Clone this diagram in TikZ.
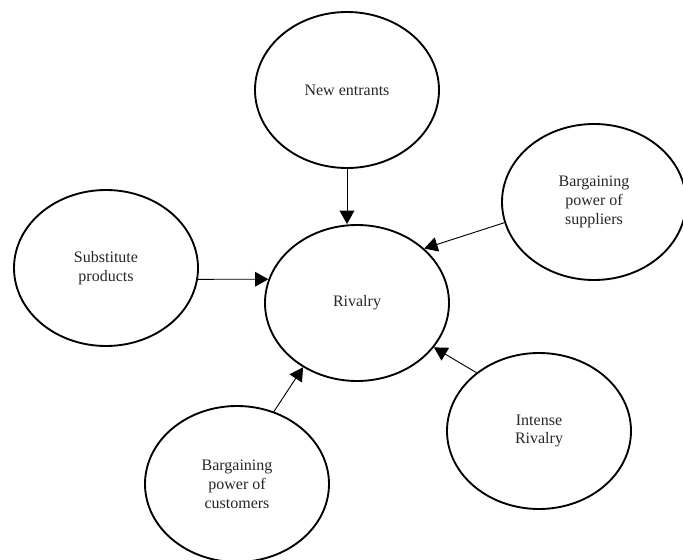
\documentclass[tikz,border=0pt]{standalone}
\usepackage{fontspec}
\setmainfont{Liberation Serif}
\usetikzlibrary{shapes.geometric,arrows.meta}
\begin{document}
\begin{tikzpicture}[x=0.75pt,y=-0.75pt,
  force/.style={ellipse,draw=black,line width=1.4pt,minimum width=138pt,minimum height=117pt,
    inner sep=0pt,align=center,font=\fontsize{12}{14.2}\selectfont,text=black!85},
  link/.style={line width=0.7pt,-{Triangle[length=10pt,width=11pt]}}]
\useasboundingbox (0,0) rectangle (683,560);
\node[force] (ne)  at (347,90)  {New entrants};
\node[force] (sup) at (594,202) {Bargaining\\power of\\suppliers};
\node[force] (sub) at (106,268) {Substitute\\products};
\node[force] (riv) at (357,303) {Rivalry};
\node[force] (int) at (539,431) {Intense\\Rivalry};
\node[force] (cus) at (237,484) {Bargaining\\power of\\customers};
\draw[link] (ne.south) -- (ne.south |- riv.north);
\draw[link] (sup.193) -- (riv.39);
\draw[link] (sub.-7.5) -- (riv.165.5);
\draw[link] (int.137) -- (riv.-30);
\draw[link] (cus.63) -- (riv.230);
\end{tikzpicture}
\end{document}
